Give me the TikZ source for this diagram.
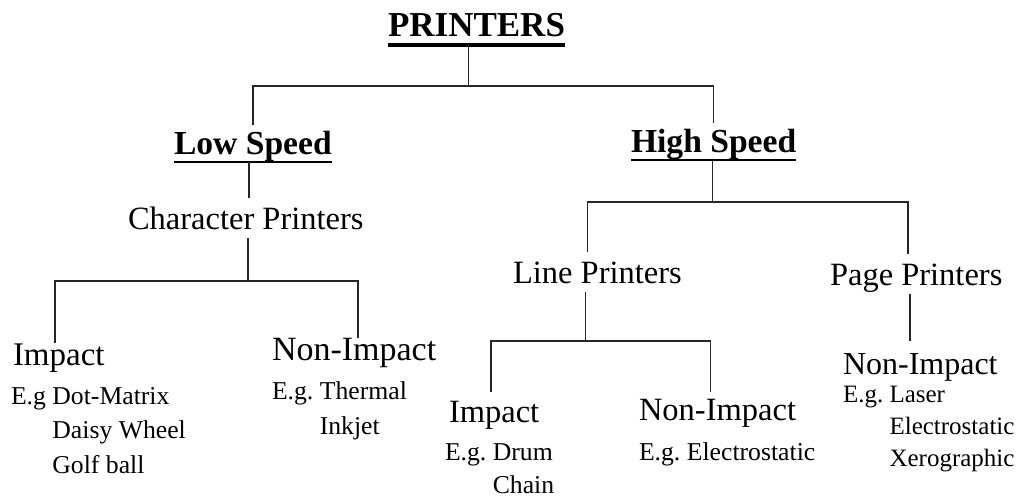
\documentclass[tikz,border=0pt]{standalone}
\usepackage{fontspec}
\setmainfont{Liberation Serif}
\usepackage{tikz}
\usetikzlibrary{positioning, calc}
\frenchspacing

\begin{document}
\begin{tikzpicture}[x=1pt, y=-1pt,
    title/.style={inner sep=0pt, outer xsep=0pt, outer ysep=8pt, anchor=base west, text height=23pt, text depth=0pt, font=\fontsize{35}{40}\selectfont\bfseries},
    speed/.style={inner sep=0pt, outer xsep=0pt, outer ysep=7pt, anchor=base west, text height=23pt, text depth=0pt, font=\fontsize{33.6}{40}\selectfont\bfseries},
    kind/.style={inner sep=0pt, outer xsep=0pt, outer ysep=9pt, anchor=base west, text height=22.4pt, text depth=0pt, font=\fontsize{32.5}{38}\selectfont},
    head/.style={inner sep=0pt, outer sep=0pt, anchor=base west, text height=22.5pt, text depth=0pt, font=\fontsize{32.5}{38}\selectfont},
    example/.style={inner sep=0pt, outer sep=0pt, anchor=base west, align=left},
    link/.style={line width=1.6pt, black!85},
    rule/.style={line width=#1, black}
]
\useasboundingbox (0,0) rectangle (1024,497);

\node (printers) [title] at (388,37) {PRINTERS};
\node (lowspeed) [speed] at (174,155) {Low Speed};
\node (highspeed)[speed] at (631,153) {High Speed};

\node (charpr) [kind] at (128,229) {Character Printers};
\node (linepr) [kind] at (513,283) {Line Printers};
\node (pagepr) [kind] at (830,285) {Page Printers};

\node (impactL)    [head, font=\fontsize{33}{38}\selectfont] at (13,365) {Impact};
\node (nonimpactL) [head, font=\fontsize{34}{40}\selectfont] at (272,360) {Non-Impact};
\node (impactM)    [head] at (449,422) {Impact};
\node (nonimpactM) [head] at (639,420) {Non-Impact};
\node (nonimpactR) [head, font=\fontsize{32}{38}\selectfont] at (843,374) {Non-Impact};

\node (egL) [example, font=\fontsize{25.7}{34.5}\selectfont] at (11,404)
    {\begin{tabular}[t]{@{}l@{\ }l@{}}E.g & Dot-Matrix\\ & Daisy Wheel\\ & Golf ball\end{tabular}};
\node (egNL) [example, font=\fontsize{25.7}{35}\selectfont] at (272,399)
    {\begin{tabular}[t]{@{}l@{\ }l@{}}E.g. & Thermal\\ & Inkjet\end{tabular}};
\node (egM) [example, font=\fontsize{25.7}{33}\selectfont] at (445,460)
    {\begin{tabular}[t]{@{}l@{\ }l@{}}E.g. & Drum\\ & Chain\end{tabular}};
\node (egNM) [example, font=\fontsize{25.7}{33}\selectfont] at (639,460) {E.g. Electrostatic};
\node (egNR) [example, font=\fontsize{25}{32}\selectfont] at (843,402)
    {\begin{tabular}[t]{@{}l@{\ }l@{}}E.g. & Laser\\ & Electrostatic\\ & Xerographic\end{tabular}};

% underlines
\draw [rule=4pt] (printers.south west) -- (printers.south east);
\draw [rule=2pt] (lowspeed.south west) -- (lowspeed.south east);
\draw [rule=2pt] (highspeed.south west) -- (highspeed.south east);

\draw [link] ([xshift=-8pt]printers.south) -- ++(0,41) coordinate (j0);
\draw [link] (lowspeed.north) |- (j0) -| (highspeed.north);

\draw [link] ([xshift=-4pt]lowspeed.south) -- ([xshift=-4pt]lowspeed.south |- charpr.north);
\draw [link] ([xshift=2pt]charpr.south) -- ++(0,43) coordinate (j1);
\draw [link] ([xshift=-4pt]impactL.north) |- (j1) -| ([xshift=4pt]nonimpactL.north);

\draw [link] ([xshift=-1pt]highspeed.south) -- ++(0,42) coordinate (j2);
\draw [link] ([xshift=-10pt]linepr.north) |- (j2) -| ([xshift=-8pt]pagepr.north);

\draw [link] ([xshift=-12pt]linepr.south) -- ++(0,49) coordinate (j3);
\draw [link, shorten <=7.5pt, shorten >=5.5pt] ([xshift=-3pt]impactM.north) |- (j3) -| ([xshift=-7pt]nonimpactM.north);

\draw [link, shorten >=10.5pt] ([xshift=-6pt]pagepr.south) -- ([xshift=-6pt]pagepr.south |- nonimpactR.north);

\end{tikzpicture}
\end{document}
